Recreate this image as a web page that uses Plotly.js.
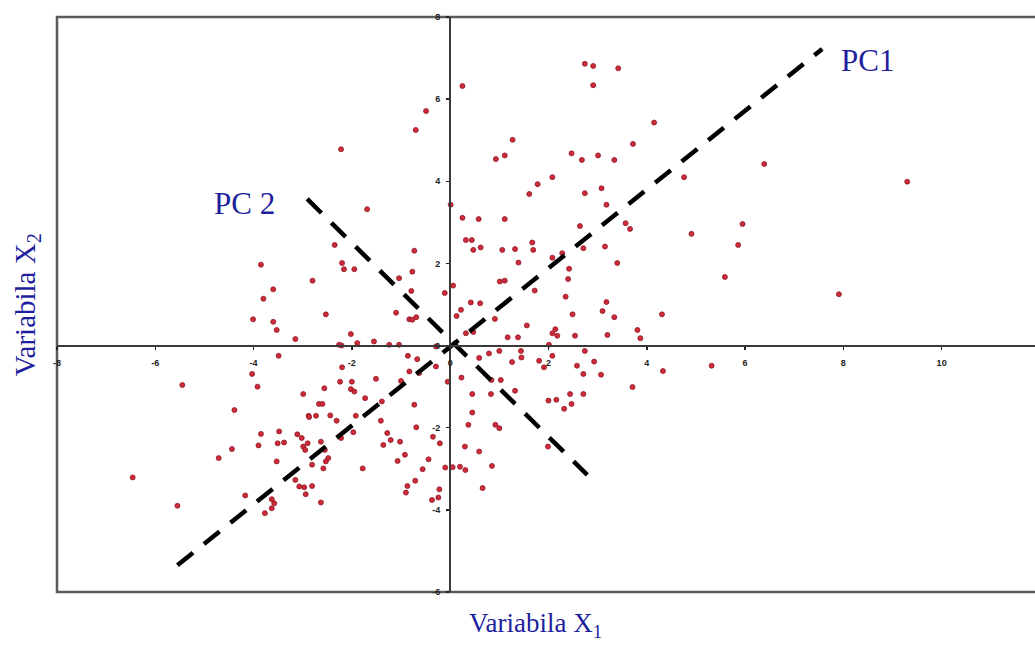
<!DOCTYPE html>
<html>
<head>
<meta charset="utf-8">
<script src="https://cdn.plot.ly/plotly-3.0.1.min.js"></script>
<style>html,body{margin:0;padding:0;background:#fff;}#chart{width:1035px;height:646px;}</style>
</head>
<body>
<div id="chart"></div>
<script>
// Observations: Variabila X1 (horizontal), Variabila X2 (vertical)
const x1Values = [
 0.25,-0.49,-0.70,-2.22,2.74,2.91,2.91,3.42,4.15,3.72,1.27,1.11,0.93,2.47,2.68,3.01,3.34,4.76,2.08,1.78,
 1.61,2.74,3.08,3.18,0.01,-1.69,0.25,0.58,1.11,6.39,9.30,4.91,5.95,5.86,5.59,7.91,5.32,3.57,3.66,2.64,
 0.32,0.44,0.47,0.62,1.06,1.32,1.69,1.67,1.39,2.28,2.08,2.71,3.15,2.42,2.40,3.40,1.01,1.11,0.06,-0.11,
 1.72,2.35,0.42,0.61,3.18,0.22,0.13,3.10,2.49,3.34,4.31,0.91,1.56,0.32,0.47,1.17,1.38,2.08,2.14,2.18,
 2.54,3.20,3.81,3.87,2.01,0.79,1.00,1.44,2.74,0.59,1.45,1.26,2.93,1.91,2.58,2.71,3.07,4.33,3.71,-0.05,
 0.23,0.84,1.03,1.32,0.45,0.83,2.44,2.71,2.00,2.16,2.47,2.32,0.45,0.37,0.92,1.00,1.99,0.30,0.59,0.85,
 0.66,-0.10,0.05,0.20,0.31,-0.24,-0.22,-0.37,-0.21,-0.69,-0.35,-0.73,-1.41,-1.28,-1.36,-1.21,-1.02,-0.92,-1.07,-0.44,
 -0.56,-1.78,-0.71,-0.87,-0.90,-1.97,-1.92,-2.22,-2.35,-3.85,-2.20,-2.16,-1.95,-2.80,-3.60,-3.80,-4.01,-3.60,-3.53,-2.53,
 -3.15,-2.02,-1.89,-1.55,-1.24,-1.04,-2.21,-0.73,-0.77,-1.04,-0.79,-1.10,-0.83,-0.77,-0.69,-3.49,-4.03,-3.92,-5.45,-2.20,
 -2.00,-2.02,-1.95,-2.24,-2.99,-2.56,-2.67,-2.60,-1.73,-1.51,-4.39,-2.88,-2.73,-2.44,-2.31,-0.86,-0.67,-0.83,-0.29,-1.00,
 -3.85,-3.90,-3.48,-3.51,-3.38,-3.11,-3.02,-2.99,-2.90,-2.95,-2.63,-2.55,-4.44,-4.71,-3.53,-2.48,-2.53,-2.81,-2.58,-3.15,
 -3.07,-2.97,-2.81,-2.94,-4.17,-3.63,-3.58,-2.63,-6.46,-5.55,-2.87,-3.77,-3.63,-2.26,-0.29,-0.63,-1.39,1.81,2.08
];
const x2Values = [
 6.32,5.71,5.25,4.78,6.86,6.81,6.34,6.75,5.43,4.91,5.01,4.63,4.54,4.68,4.52,4.63,4.52,4.10,4.10,3.93,
 3.69,3.71,3.83,3.43,3.43,3.32,3.11,3.08,3.08,4.42,3.99,2.72,2.96,2.45,1.67,1.25,-0.49,2.98,2.84,2.91,
 2.57,2.57,2.33,2.39,2.33,2.35,2.33,2.51,2.02,2.25,2.14,2.37,2.41,1.87,1.62,2.01,1.56,1.58,1.46,1.28,
 1.34,1.19,1.05,1.03,1.06,0.87,0.72,0.84,0.76,0.69,0.76,0.65,0.49,0.30,0.33,0.20,0.20,0.30,0.40,0.24,
 0.24,0.26,0.38,0.18,0.02,-0.19,-0.13,-0.13,-0.13,-0.30,-0.29,-0.40,-0.39,-0.53,-0.49,-0.69,-0.71,-0.62,-1.01,-0.88,
 -0.78,-0.84,-0.84,-1.10,-1.18,-1.18,-1.18,-1.18,-1.34,-1.32,-1.42,-1.54,-1.63,-1.93,-1.93,-2.01,-2.46,-2.46,-2.58,-2.93,
 -3.47,-2.97,-2.96,-2.95,-3.03,-3.70,-3.50,-3.76,-2.38,-1.99,-2.22,-1.44,-1.83,-2.13,-2.42,-2.30,-2.34,-2.66,-2.81,-2.77,
 -3.01,-2.99,-3.29,-3.42,-3.58,-2.11,-1.71,-2.25,2.45,1.97,2.01,1.86,1.86,1.58,1.37,1.14,0.64,0.58,0.38,0.76,
 0.16,0.28,0.06,0.10,0.02,0.02,0.00,2.31,1.80,1.64,1.33,0.80,0.64,0.63,0.69,-0.25,-0.69,-1.00,-0.96,-0.53,
 -0.88,-1.06,-1.12,-0.88,-1.18,-1.04,-1.42,-1.42,-1.28,-0.81,-1.57,-1.71,-1.71,-1.70,-1.83,-0.25,-0.33,-0.63,-0.51,-0.86,
 -2.15,-2.43,-2.09,-2.38,-2.36,-2.16,-2.25,-2.46,-2.38,-2.54,-2.34,-2.54,-2.52,-2.74,-2.82,-2.74,-2.82,-2.90,-2.99,-3.27,
 -3.43,-3.45,-3.42,-3.62,-3.65,-3.74,-3.84,-3.82,-3.21,-3.90,-1.74,-4.08,-3.96,0.02,-0.02,-0.67,-1.36,-0.37,-0.25
];

// Principal component directions (end points)
const pc1X = [-5.55, 7.57];
const pc1Y = [-5.35, 7.22];
const pc2X = [-2.91, 2.79];
const pc2Y = [3.57, -3.15];

// Axis ticks
const xTickVals = [-8,-6,-4,-2,0,2,4,6,8,10,12];
const xTickText = ['-8','-6','-4','-2','0','2','4','6','8','10','12'];
const yTickVals = [-6,-4,-2,0,2,4,6,8];
const yTickText = ['-6','-4','-2','0','2','4','6','8'];

const xRange = [-8, 11.9];
const yRange = [-6, 8];

const blue = '#1f1f9e';
const serif = '"Liberation Serif", "Times New Roman", serif';

const traces = [
  {
    x: x1Values, y: x2Values, type: 'scatter', mode: 'markers',
    marker: {symbol: 'circle', size: 5, color: '#cf2a38', line: {width: 0.8, color: '#8e1b2a'}},
    hoverinfo: 'x+y', showlegend: false
  },
  {
    x: pc1X, y: pc1Y, type: 'scatter', mode: 'lines',
    line: {color: '#000', width: 4.5, dash: '20px,14px'}, showlegend: false, hoverinfo: 'skip'
  },
  {
    x: pc2X, y: pc2Y, type: 'scatter', mode: 'lines',
    line: {color: '#000', width: 4.5, dash: '20px,14px'}, showlegend: false, hoverinfo: 'skip'
  }
];

const tickFont = {family: '"Liberation Sans", Arial, sans-serif', size: 9, color: '#222', weight: 'bold'};

const layout = {
  width: 1035, height: 646,
  margin: {l: 57, r: 0, t: 17, b: 54, pad: 0},
  paper_bgcolor: '#fff', plot_bgcolor: '#fff',
  showlegend: false,
  xaxis: {
    range: xRange, anchor: 'free', position: (0 - yRange[0]) / (yRange[1] - yRange[0]),
    showgrid: false, zeroline: false, showline: true, linecolor: '#3a3a3a', linewidth: 2,
    ticks: 'outside', ticklen: 3, tickwidth: 1.5, tickcolor: '#222',
    tickvals: xTickVals, ticktext: xTickText, tickfont: tickFont, ticklabelstandoff: 6
  },
  yaxis: {
    range: yRange, anchor: 'free', position: (0 - xRange[0]) / (xRange[1] - xRange[0]),
    showgrid: false, zeroline: false, showline: true, linecolor: '#3a3a3a', linewidth: 2,
    ticks: 'outside', ticklen: 3, tickwidth: 1.5, tickcolor: '#222',
    tickvals: yTickVals, ticktext: yTickText, tickfont: tickFont, ticklabelstandoff: 4
  },
  shapes: [
    {type: 'rect', xref: 'paper', yref: 'paper', x0: 0, x1: 1.02, y0: 0, y1: 1,
     line: {color: '#5a5a5a', width: 2.5}, fillcolor: 'rgba(0,0,0,0)', layer: 'below'}
  ],
  annotations: [
    {text: 'Variabila X<sub>1</sub>', xref: 'paper', yref: 'paper', x: 0.489, y: -0.058,
     xanchor: 'center', yanchor: 'middle', showarrow: false, font: {family: serif, size: 27, color: blue}},
    {text: 'Variabila X<sub>2</sub>', xref: 'paper', yref: 'paper', x: -0.031, y: 0.50,
     xanchor: 'center', yanchor: 'middle', textangle: -90, showarrow: false, font: {family: serif, size: 29, color: blue}},
    {text: 'PC1', xref: 'x', yref: 'y', x: 8.5, y: 6.95, xanchor: 'center', yanchor: 'middle',
     showarrow: false, font: {family: serif, size: 31, color: blue}},
    {text: 'PC 2', xref: 'x', yref: 'y', x: -4.19, y: 3.47, xanchor: 'center', yanchor: 'middle',
     showarrow: false, font: {family: serif, size: 31, color: blue}}
  ]
};

Plotly.newPlot('chart', traces, layout, {displayModeBar: false, staticPlot: true});
</script>
</body>
</html>
